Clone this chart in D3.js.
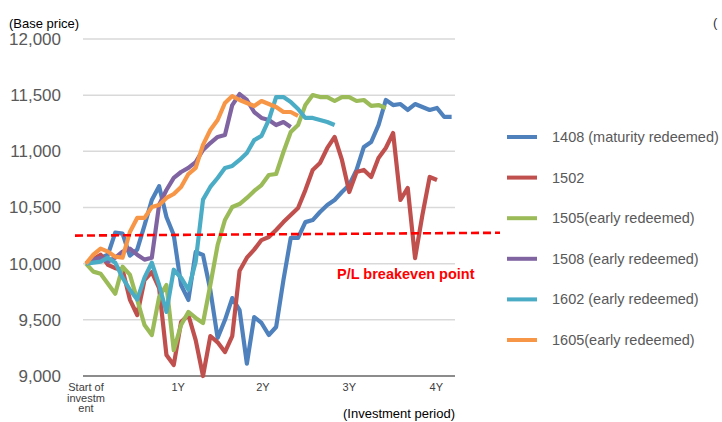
<!DOCTYPE html>
<html>
<head>
<meta charset="utf-8">
<script src="https://cdn.jsdelivr.net/npm/d3@7"></script>
<style>
  body { margin: 0; background: #fff; }
  svg { font-family: "Liberation Sans", Arial, sans-serif; }
</style>
</head>
<body>
<svg id="chart" width="722" height="422"></svg>
<script>
'use strict';

// values, one point per month
var s1408 = [10000, 10018, 10053, 10080, 10276, 10267, 10071, 10125, 10340, 10567,
  10690, 10415, 10255, 9810, 9677, 10104, 10077, 9766, 9338, 9498,
  9694, 9587, 9110, 9525, 9472, 9365, 9436, 9855, 10229, 10229,
  10370, 10388, 10460, 10522, 10567, 10638, 10700, 10834, 11039, 11083,
  11234, 11457, 11412, 11421, 11368, 11421, 11395, 11368, 11386, 11306, 11306];
var s1502 = [10000, 10040, 10080, 9990, 9960, 9945, 9680, 9543, 9855, 9925,
  9783, 9187, 9098, 9480, 9543, 9320, 9000, 9356, 9300, 9213,
  9356, 9937, 10053, 10125, 10210, 10237, 10300, 10370, 10433, 10495,
  10655, 10834, 10896, 11030, 11128, 10923, 10638, 10816, 10834, 10772,
  10941, 11030, 11163, 10567, 10674, 10050, 10433, 10772, 10745];
var s1505 = [10000, 9929, 9911, 9822, 9733, 9973, 9902, 9680, 9454, 9365,
  9703, 9810, 9230, 9454, 9570, 9517, 9472, 9810, 10166, 10389,
  10504, 10531, 10585, 10647, 10700, 10789, 10798, 10994, 11172, 11234,
  11412, 11501, 11483, 11483, 11448, 11483, 11483, 11448, 11457, 11404,
  11412, 11386];
var s1508 = [10000, 10036, 10053, 10018, 10053, 10107, 10134, 10080, 10036, 10053,
  10525, 10656, 10763, 10816, 10852, 10905, 11012, 11074, 11128, 11145,
  11412, 11510, 11457, 11350, 11297, 11279, 11234, 11261, 11217];
var s1602 = [10000, 10009, 10018, 10053, 10009, 9875, 9768, 9680, 9875, 10009,
  9810, 9570, 9946, 9875, 9768, 10018, 10570, 10683, 10763, 10852,
  10870, 10923, 10985, 11100, 11137, 11279, 11483, 11483, 11439, 11377,
  11297, 11297, 11279, 11261, 11234];
var s1605 = [10000, 10080, 10134, 10107, 10062, 10053, 10282, 10407, 10407, 10504,
  10522, 10585, 10620, 10683, 10798, 10852, 11057, 11190, 11279, 11430,
  11492, 11457, 11430, 11404, 11448, 11421, 11395, 11350, 11350, 11315];

var seriesNames = ['1408 (maturity redeemed)', '1502', '1505(early redeemed)',
  '1508 (early redeemed)', '1602 (early redeemed)', '1605(early redeemed)'];
var seriesValues = [s1408, s1502, s1505, s1508, s1602, s1605];
var colors = ['#4f81bd', '#c0504d', '#9bbb59', '#8064a2', '#4bacc6', '#f79646'];

var yTicks = [9000, 9500, 10000, 10500, 11000, 11500, 12000];
var xTickLabels = [['Start of', 'investm', 'ent'], ['1Y'], ['2Y'], ['3Y'], ['4Y']];
var xTickPos = [0, 12.6, 24.2, 36, 47.9];
var breakeven = [10250, 10275];

var svg = d3.select('#chart');

var x = d3.scaleLinear().domain([0, 48]).range([86, 437]);
var y = d3.scaleLinear().domain([9000, 12000]).range([376, 39]);

// grid
svg.append('g').selectAll('line')
  .data(yTicks)
  .enter().append('line')
  .attr('x1', 83).attr('x2', 455)
  .attr('y1', function (d) { return y(d); })
  .attr('y2', function (d) { return y(d); })
  .attr('stroke', function (d) { return d === 9000 ? '#8c8c8c' : '#d9d9d9'; })
  .attr('stroke-width', function (d) { return d === 9000 ? 2 : 1.5; });

// y labels
svg.append('g').selectAll('text')
  .data(yTicks)
  .enter().append('text')
  .attr('x', 61)
  .attr('y', function (d) { return y(d); })
  .attr('dy', '0.35em')
  .attr('text-anchor', 'end')
  .attr('font-size', 17)
  .attr('fill', '#595959')
  .text(d3.format(','));

svg.append('text')
  .attr('x', 9).attr('y', 28)
  .attr('font-size', 13)
  .attr('fill', '#000')
  .text('(Base price)');

// x labels
var xl = svg.append('g').selectAll('text')
  .data(xTickLabels)
  .enter().append('text')
  .attr('text-anchor', 'middle')
  .attr('font-size', 11)
  .attr('fill', '#404040')
  .attr('x', function (d, i) { return x(xTickPos[i]); })
  .attr('y', 391);
xl.selectAll('tspan')
  .data(function (d) { return d; })
  .enter().append('tspan')
  .attr('x', function () { return d3.select(this.parentNode).attr('x'); })
  .attr('dy', function (d, i) { return i === 0 ? 0 : 10.5; })
  .text(function (d) { return d; });

svg.append('text')
  .attr('x', 455).attr('y', 418)
  .attr('text-anchor', 'end')
  .attr('font-size', 13)
  .attr('fill', '#000')
  .text('(Investment period)');

// lines
var line = d3.line()
  .x(function (d, i) { return x(i); })
  .y(function (d) { return y(d); });

svg.append('g').selectAll('path')
  .data(seriesValues)
  .enter().append('path')
  .attr('d', line)
  .attr('fill', 'none')
  .attr('stroke', function (d, i) { return colors[i]; })
  .attr('stroke-width', 4.2)
  .attr('stroke-linejoin', 'round');

// breakeven
svg.append('line')
  .attr('x1', 75).attr('x2', 500)
  .attr('y1', y(breakeven[0])).attr('y2', y(breakeven[1]))
  .attr('stroke', '#ff0000')
  .attr('stroke-width', 2.6)
  .attr('stroke-dasharray', '8,4');

svg.append('text')
  .attr('x', 337).attr('y', 279)
  .attr('font-size', 14.5)
  .attr('font-weight', 'bold')
  .attr('fill', '#ff0000')
  .text('P/L breakeven point');

// legend
var leg = svg.append('g').selectAll('g')
  .data(seriesNames)
  .enter().append('g')
  .attr('transform', function (d, i) { return 'translate(507,' + (137 + i * 40.6) + ')'; });
leg.append('line')
  .attr('x1', 0).attr('x2', 30)
  .attr('stroke', function (d, i) { return colors[i]; })
  .attr('stroke-width', 4);
leg.append('text')
  .attr('x', 45).attr('dy', '0.35em')
  .attr('font-size', 14.5)
  .attr('fill', '#595959')
  .text(function (d) { return d; });

svg.append('text')
  .attr('x', 713).attr('y', 27)
  .attr('font-size', 13)
  .attr('fill', '#333')
  .text('(');
</script>
</body>
</html>
